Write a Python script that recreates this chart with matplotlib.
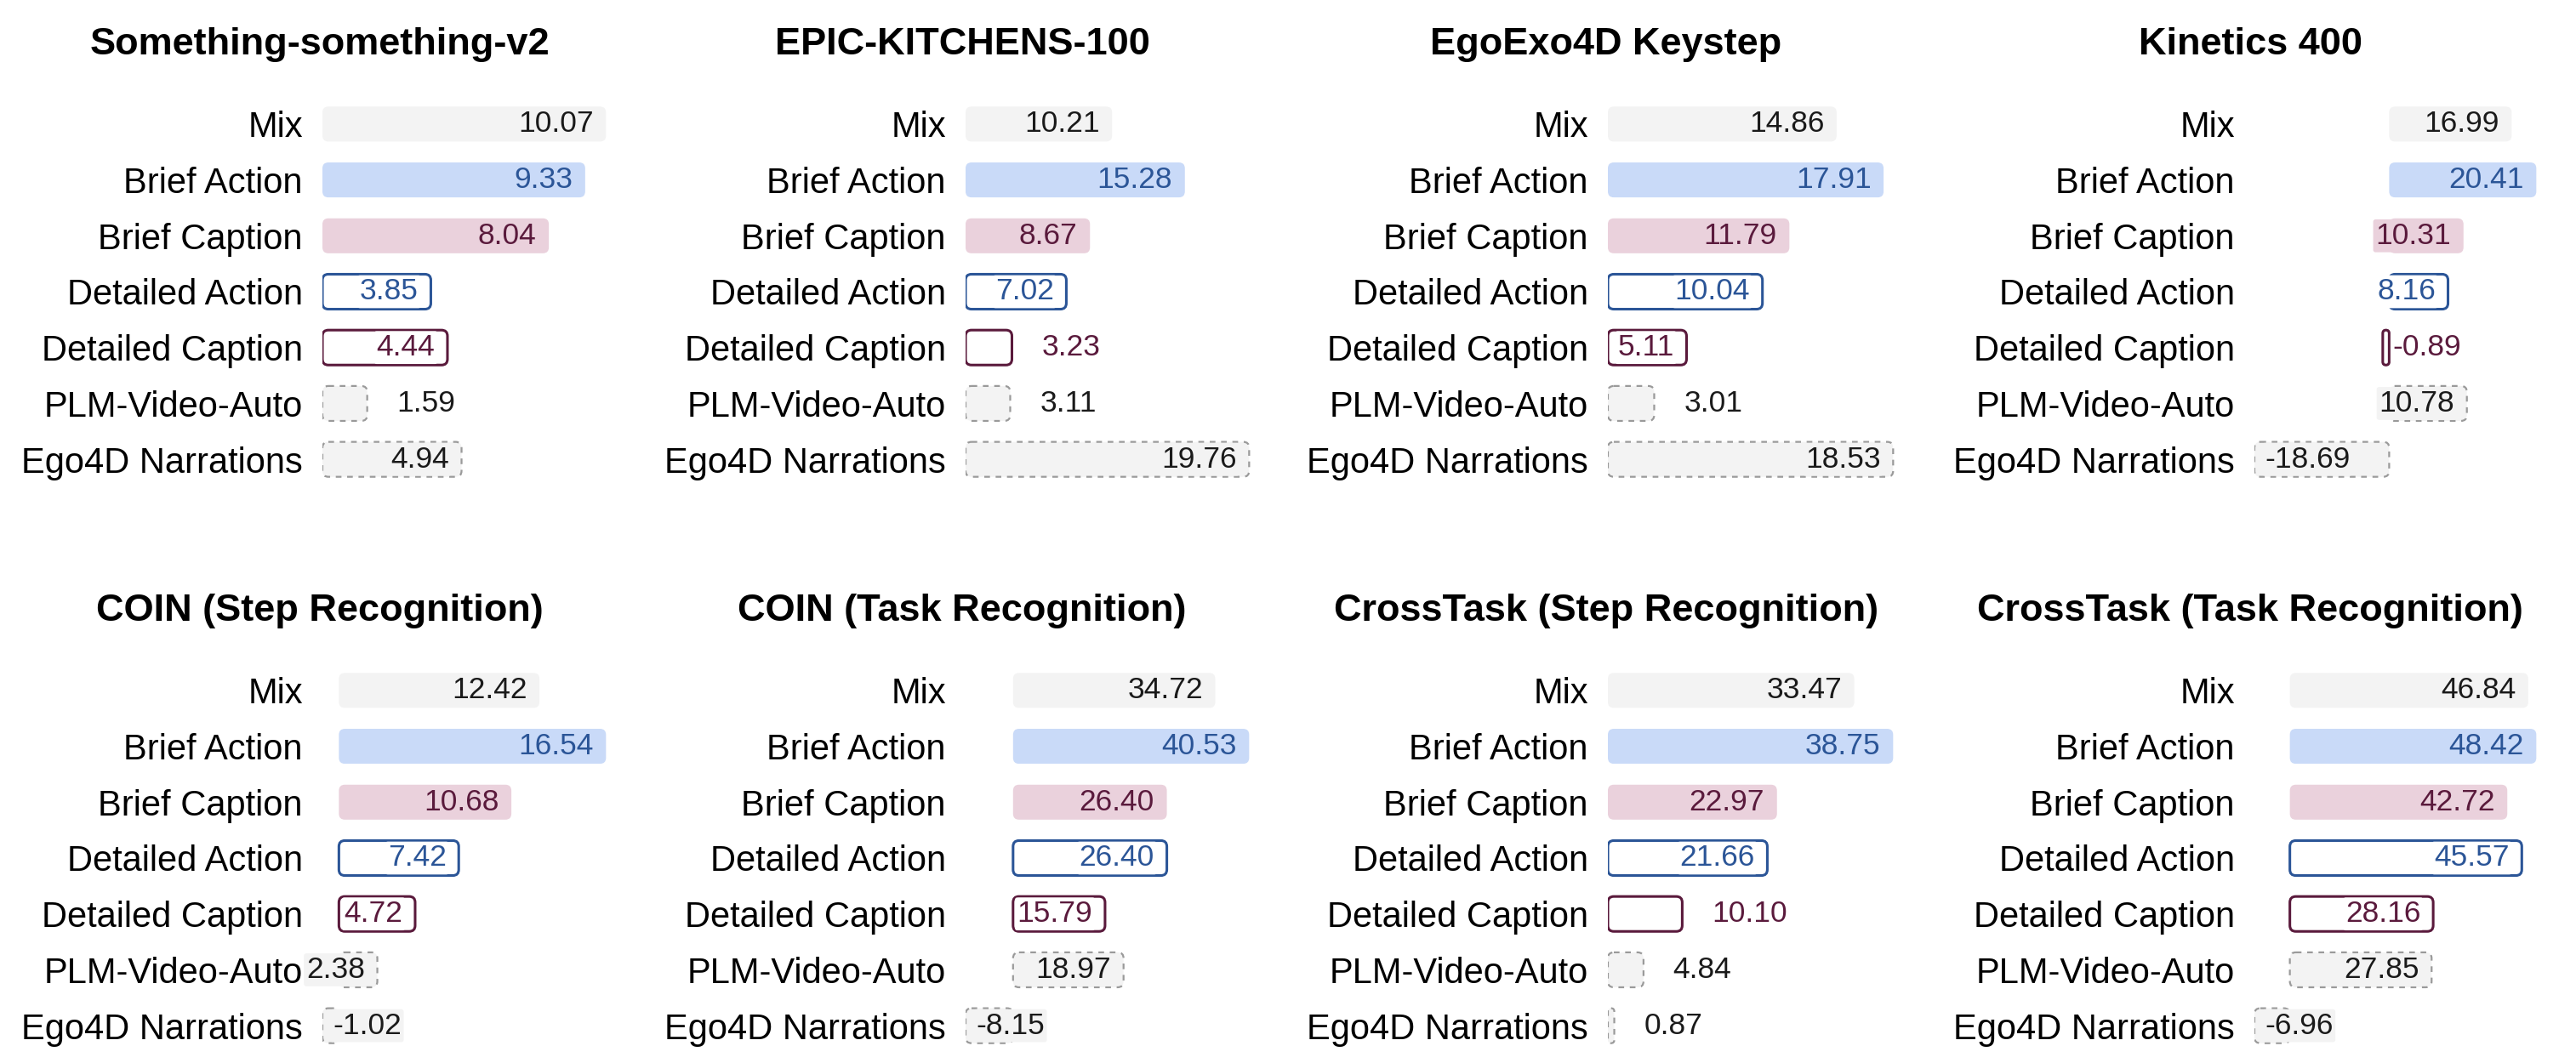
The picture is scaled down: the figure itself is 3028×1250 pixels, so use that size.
import numpy as np
import matplotlib
matplotlib.use("Agg")
import matplotlib.pyplot as plt
from matplotlib.patches import FancyBboxPatch

# %% data
categories = ["Mix", "Brief Action", "Brief Caption", "Detailed Action",
              "Detailed Caption", "PLM-Video-Auto", "Ego4D Narrations"]

titles = ["Something-something-v2", "EPIC-KITCHENS-100", "EgoExo4D Keystep", "Kinetics 400",
          "COIN (Step Recognition)", "COIN (Task Recognition)",
          "CrossTask (Step Recognition)", "CrossTask (Task Recognition)"]

ssv2 = [10.07, 9.33, 8.04, 3.85, 4.44, 1.59, 4.94]
epic = [10.21, 15.28, 8.67, 7.02, 3.23, 3.11, 19.76]
egoexo = [14.86, 17.91, 11.79, 10.04, 5.11, 3.01, 18.53]
kinetics = [16.99, 20.41, 10.31, 8.16, -0.89, 10.78, -18.69]
coin_step = [12.42, 16.54, 10.68, 7.42, 4.72, 2.38, -1.02]
coin_task = [34.72, 40.53, 26.40, 26.40, 15.79, 18.97, -8.15]
crosstask_step = [33.47, 38.75, 22.97, 21.66, 10.10, 4.84, 0.87]
crosstask_task = [46.84, 48.42, 42.72, 45.57, 28.16, 27.85, -6.96]
panels = [ssv2, epic, egoexo, kinetics, coin_step, coin_task, crosstask_step, crosstask_task]

# value labels drawn to the right of the bar instead of inside it
outside = {(0, 5), (1, 4), (1, 5), (2, 5), (6, 4), (6, 5), (6, 6)}

# %% styles
GRAY, BLUE_F, PINK_F = "#f3f3f3", "#c9daf8", "#ead1dc"
BLUE, MAROON, DASH = "#2b5597", "#5a1a3c", "#9a9a9a"
fills = [GRAY, BLUE_F, PINK_F, "white", "white", GRAY, GRAY]
edges = ["none", "none", "none", BLUE, MAROON, DASH, DASH]
styles = ["solid", "solid", "solid", "solid", "solid", (0, (3, 3)), (0, (3, 3))]
txt_colors = ["#1a1a1a", BLUE, MAROON, BLUE, MAROON, "#1a1a1a", "#1a1a1a"]

plt.rcParams["font.family"] = ["Liberation Sans", "DejaVu Sans"]
fs_lab, fs_val, fs_title = 30, 25.5, 32.5

W, H = 3028, 1250
fig = plt.figure(figsize=(W / 100, H / 100), dpi=100)

# pixel layout (left, right) per column, (top, bottom) per row
col_lr = [(379, 715), (1135, 1471), (1890, 2228), (2650, 2984)]
row_tb = [(113, 573), (779, 1239)]
title_x = [376, 1131, 1888, 2645]
title_base = [64, 730]

for k, vals in enumerate(panels):
    r, c = divmod(k, 4)
    l, rr = col_lr[c]
    t, b = row_tb[r]
    ax = fig.add_axes([l / W, 1 - b / H, (rr - l) / W, (b - t) / H])
    vmin, vmax = min(0, min(vals)), max(vals)
    xmin, xmax = vmin, vmax + 0.008 * (vmax - vmin)
    ax.set_xlim(xmin, xmax)
    ax.set_ylim(6.5, -0.5)
    xpp = (xmax - xmin) / (rr - l)     # x units per pixel
    ypp = 7.0 / (b - t)                 # y units per pixel
    h = 0.625
    for i, v in enumerate(vals):
        x0, w = min(0, v), abs(v)
        rad = min(7 * xpp, w / 2)
        p = FancyBboxPatch((x0, i - h / 2), w, h,
                           boxstyle=f"round,pad=0,rounding_size={max(rad, 1e-6)}",
                           mutation_aspect=ypp / xpp,
                           fc=fills[i], ec=edges[i], lw=2.2 if i in (3, 4) else 1.6,
                           ls=styles[i], zorder=2)
        ax.add_patch(p)
        lab = f"{v:.2f}"
        if (k, i) in outside:
            ax.annotate(lab, (v, i), xytext=(25, 0), textcoords="offset points",
                        ha="left", va="center", fontsize=fs_val, color=txt_colors[i], zorder=3)
        elif v < 0:
            ax.annotate(lab, (v, i), xytext=(8.6, 0), textcoords="offset points",
                        ha="left", va="center", fontsize=fs_val, color=txt_colors[i], zorder=3,
                        bbox=dict(boxstyle="round,pad=0.08", fc=fills[i], ec="none"))
        else:
            ax.annotate(lab, (v, i), xytext=(-10.5, 0), textcoords="offset points",
                        ha="right", va="center", fontsize=fs_val, color=txt_colors[i], zorder=3,
                        bbox=dict(boxstyle="round,pad=0.08", fc=fills[i], ec="none"))
    ax.set_yticks(range(len(categories)))
    ax.set_yticklabels(categories, fontsize=fs_lab)
    ax.tick_params(axis="y", length=0, pad=16.6)
    ax.set_xticks([])
    for s in ax.spines.values():
        s.set_visible(False)
    ax.patch.set_alpha(0)
    fig.text(title_x[c] / W, 1 - title_base[r] / H, titles[k], ha="center", va="baseline",
             fontsize=fs_title, fontweight="bold")

fig.savefig("out.png", dpi=100)
